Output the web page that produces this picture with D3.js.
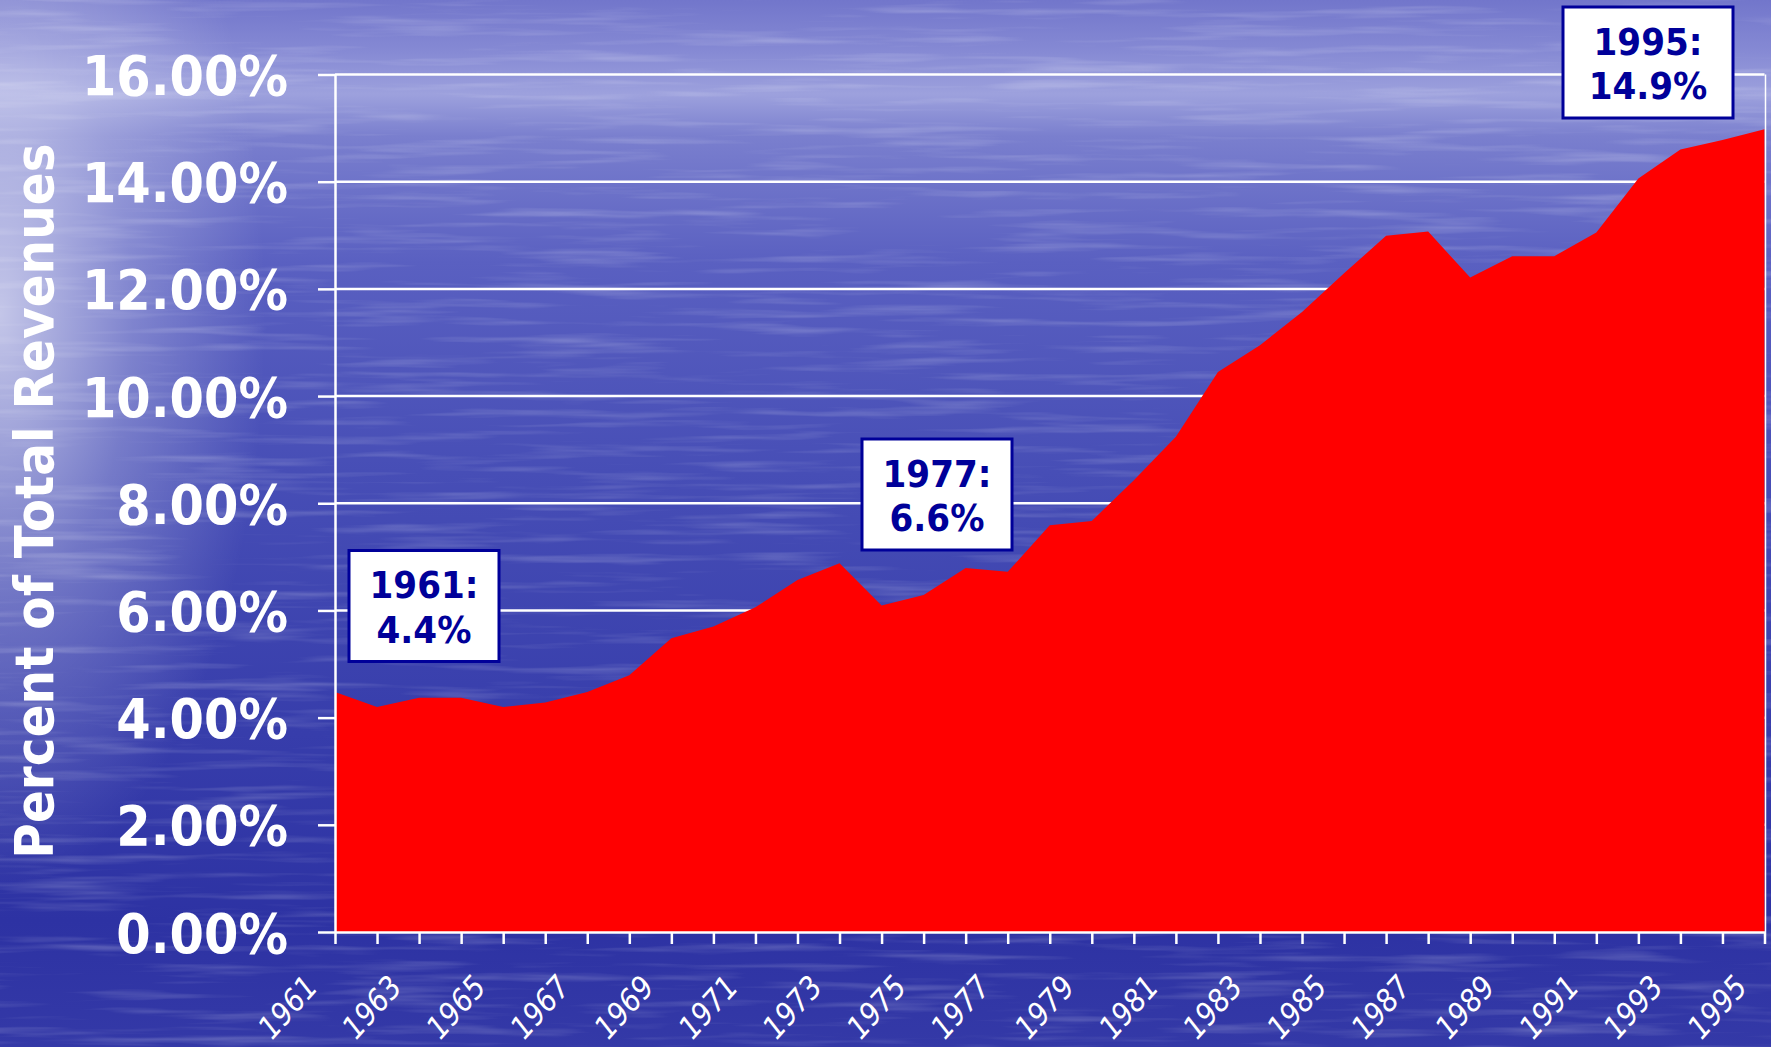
<!DOCTYPE html>
<html>
<head>
<meta charset="utf-8">
<script src="https://cdn.jsdelivr.net/npm/d3@7"></script>
<style>
  html, body { margin: 0; padding: 0; background: #3a40ae; overflow: hidden; }
  svg { display: block; }
  .bold { font-family: "DejaVu Sans Condensed", "DejaVu Sans", sans-serif; font-stretch: condensed; font-weight: bold; }
</style>
</head>
<body>
<svg id="chart" width="1771" height="1047"></svg>
<script>
// data
const years = [1961, 1962, 1963, 1964, 1965, 1966, 1967, 1968, 1969, 1970,
    1971, 1972, 1973, 1974, 1975, 1976, 1977, 1978, 1979, 1980,
    1981, 1982, 1983, 1984, 1985, 1986, 1987, 1988, 1989, 1990,
    1991, 1992, 1993, 1994, 1995];
const shares = [4.48, 4.20, 4.37, 4.37, 4.20, 4.28, 4.48, 4.79, 5.48, 5.70,
    6.06, 6.57, 6.88, 6.09, 6.29, 6.79, 6.72, 7.59, 7.67, 8.43,
    9.24, 10.45, 10.95, 11.57, 12.29, 12.99, 13.07, 12.21, 12.61, 12.61,
    13.05, 14.06, 14.60, 14.78, 14.98];
const yTicks = [0, 2, 4, 6, 8, 10, 12, 14, 16];
const yTitle = "Percent of Total Revenues";
const calloutYears = [1961, 1977, 1995];
const calloutTexts = [["1961:", "4.4%"], ["1977:", "6.6%"], ["1995:", "14.9%"]];

const W = 1771, H = 1047;
const svg = d3.select("#chart");

// background (sea picture)
const defs = svg.append("defs");
const bg = defs.append("linearGradient").attr("id", "bg").attr("x1", 0).attr("y1", 0).attr("x2", 0).attr("y2", 1);
[[0, "#7276cb"], [0.05, "#868ad4"], [0.09, "#9da1dd"], [0.13, "#7a7fce"],
 [0.25, "#5a60c1"], [0.45, "#474eb6"], [0.7, "#373dab"], [0.88, "#2d32a3"], [1, "#3439a7"]]
    .forEach(s => bg.append("stop").attr("offset", s[0]).attr("stop-color", s[1]));

const glow = defs.append("radialGradient").attr("id", "glow")
    .attr("cx", 0).attr("cy", 0.3).attr("r", 0.5)
    .attr("gradientTransform", "translate(0,0.3) scale(0.3,1.1) translate(0,-0.3)");
glow.append("stop").attr("offset", 0).attr("stop-color", "#fff").attr("stop-opacity", 0.65);
glow.append("stop").attr("offset", 0.5).attr("stop-color", "#fff").attr("stop-opacity", 0.25);
glow.append("stop").attr("offset", 1).attr("stop-color", "#fff").attr("stop-opacity", 0);

const waves = defs.append("filter").attr("id", "waves").attr("x", 0).attr("y", 0).attr("width", 1).attr("height", 1);
waves.append("feTurbulence").attr("type", "fractalNoise").attr("baseFrequency", "0.006 0.11")
    .attr("numOctaves", 3).attr("seed", 7);
waves.append("feColorMatrix").attr("values", "0 0 0 0 1  0 0 0 0 1  0 0 0 0 1  0 0 0 2.4 -1.2");

svg.append("rect").attr("width", W).attr("height", H).attr("fill", "url(#bg)");
svg.append("rect").attr("width", W).attr("height", H).attr("filter", "url(#waves)").attr("opacity", 0.2);
svg.append("rect").attr("width", W).attr("height", H).attr("fill", "url(#glow)");

// scales
const x = d3.scaleLinear().domain([years[0], years[years.length - 1]]).range([335, 1764.5]);
const y = d3.scaleLinear().domain([0, 16]).range([932, 74.5]);

// grid lines
svg.append("g")
    .selectAll("line")
    .data(yTicks.filter(d => d > 0))
    .enter().append("line")
    .attr("x1", x.range()[0]).attr("x2", x.range()[1])
    .attr("y1", d => y(d)).attr("y2", d => y(d))
    .attr("stroke", "#fff").attr("stroke-width", 2.5);

// area
const points = years.map((yr, i) => ({ year: yr, value: shares[i] }));
const area = d3.area()
    .x(d => x(d.year))
    .y0(y(0))
    .y1(d => y(d.value));

svg.append("path")
    .datum(points)
    .attr("d", area)
    .attr("fill", "#ff0000");

// right border of plot area
svg.append("line")
    .attr("x1", x.range()[1] + 1).attr("x2", x.range()[1] + 1)
    .attr("y1", y(16)).attr("y2", y(0))
    .attr("stroke", "#fff").attr("stroke-width", 1.5);

// y axis
const yAxis = svg.append("g")
    .attr("transform", `translate(${x.range()[0]},0)`)
    .call(d3.axisLeft(y).tickValues(yTicks).tickSize(17).tickSizeOuter(0)
        .tickFormat(d => d.toFixed(2) + "%"));
yAxis.select(".domain").attr("stroke", "#fff").attr("stroke-width", 2.5);
yAxis.selectAll(".tick line").attr("stroke", "#fff").attr("stroke-width", 2.5);
yAxis.selectAll(".tick text")
    .attr("class", "bold")
    .attr("x", -47).attr("dy", null).attr("y", 20)
    .attr("fill", "#fff")
    .style("font-size", "55px");

// x axis
const xAxis = svg.append("g")
    .attr("transform", `translate(0,${y(0)})`)
    .call(d3.axisBottom(x).tickValues(years).tickSize(12).tickSizeOuter(0)
        .tickFormat(d => (d - years[0]) % 2 === 0 ? d : ""));
xAxis.select(".domain").attr("stroke", "#fff").attr("stroke-width", 2.5);
xAxis.selectAll(".tick line").attr("stroke", "#fff").attr("stroke-width", 2.5);
xAxis.selectAll(".tick text")
    .attr("x", 0).attr("y", 0).attr("dy", null)
    .attr("text-anchor", "end")
    .attr("transform", "translate(-16,56) rotate(-48)")
    .attr("fill", "#fff")
    .style("font-family", "'DejaVu Sans Condensed', 'DejaVu Sans', sans-serif")
    .style("font-stretch", "condensed")
    .style("font-style", "italic")
    .style("font-size", "31px");

// axis title
svg.append("text")
    .attr("class", "bold")
    .attr("transform", "translate(53,501) rotate(-90)")
    .attr("text-anchor", "middle")
    .attr("fill", "#fff")
    .style("font-size", "54px")
    .text(yTitle);

// callout boxes: centre, top edge and width in pixels
const boxLayout = { 1961: { cx: 424, top: 550.5, w: 150 }, 1977: { cx: 937, top: 439, w: 150 }, 1995: { cx: 1648, top: 7, w: 170 } };

calloutYears.forEach((yr, i) => {
    const b = boxLayout[yr];
    const g = svg.append("g");
    g.append("rect")
        .attr("x", b.cx - b.w / 2).attr("y", b.top)
        .attr("width", b.w).attr("height", 111)
        .attr("fill", "#fff")
        .attr("stroke", "#000099").attr("stroke-width", 3);
    g.selectAll("text")
        .data(calloutTexts[i])
        .enter().append("text")
        .attr("class", "bold")
        .attr("x", b.cx)
        .attr("y", (d, j) => b.top + 47.5 + j * 44.5)
        .attr("text-anchor", "middle")
        .attr("fill", "#000099")
        .style("font-size", "38px")
        .text(d => d);
});
</script>
</body>
</html>
